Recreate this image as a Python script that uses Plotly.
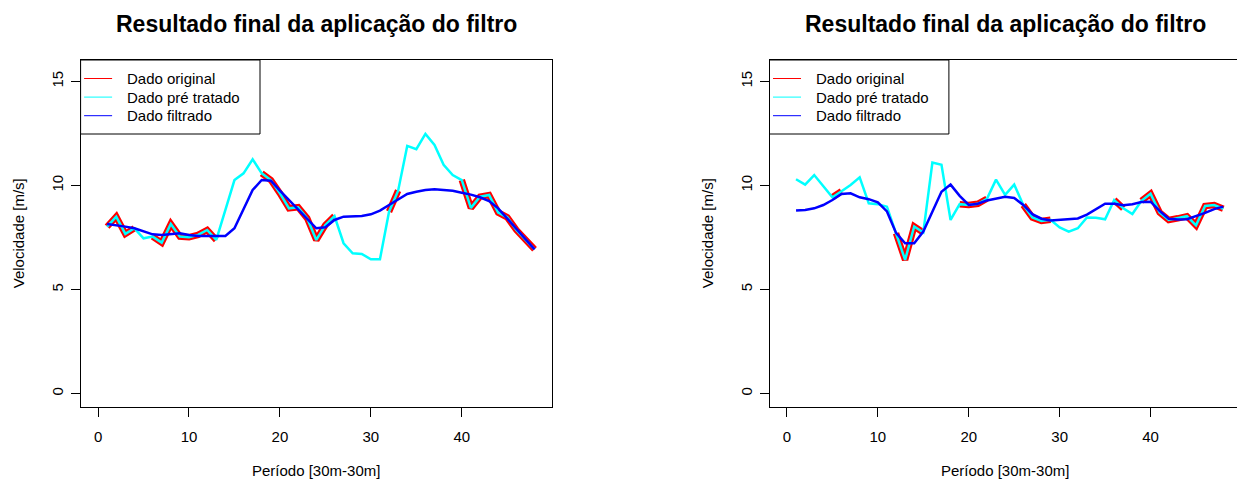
import plotly.graph_objects as go

periods = list(range(1, 49))

# ---- Left panel ----
left_original = [8.02, 8.5, 7.67, 7.94, None, 7.54, 7.25, 8.15, 7.54, 7.51,
                 7.62, 7.86, 7.38, None, None, None, None, 10.58, 10.26, 9.62,
                 8.9, 8.95, 8.42, 7.38, 8.1, 8.53, None, None, None, None,
                 None, 8.74, 9.75, None, None, None, None, None, None, 10.26,
                 8.92, 9.46, 9.54, 8.7, 8.47, 7.86, 7.38, 6.93]
left_pretreated = [8.02, 8.5, 7.67, 7.94, 7.46, 7.54, 7.25, 8.15, 7.54, 7.51,
                   7.62, 7.86, 7.38, 8.8, 10.26, 10.58, 11.26, 10.58, 10.26, 9.62,
                   8.9, 8.95, 8.42, 7.38, 8.1, 8.53, 7.22, 6.74, 6.71, 6.45,
                   6.45, 8.74, 9.75, 11.9, 11.74, 12.48, 11.95, 10.99, 10.5, 10.26,
                   8.92, 9.46, 9.54, 8.7, 8.47, 7.86, 7.38, 6.93]
left_filtered = [8.15, 8.1, 8.02, 7.94, 7.78, 7.65, 7.62, 7.67, 7.7, 7.62,
                 7.57, 7.57, 7.57, 7.57, 7.94, 8.82, 9.78, 10.26, 10.23, 9.75,
                 9.3, 8.86, 8.42, 7.94, 7.99, 8.34, 8.5, 8.5, 8.53, 8.61,
                 8.79, 9.06, 9.32, 9.59, 9.7, 9.78, 9.82, 9.78, 9.74, 9.65,
                 9.56, 9.43, 9.25, 8.9, 8.42, 7.94, 7.41, 6.93]

# ---- Right panel ----
right_original = [None, None, None, None, 9.43, 9.72, None, None, None, None,
                  None, 7.7, 6.42, 8.03, 7.74, None, None, None, 9.1, 9.06,
                  9.12, 9.36, None, None, None, 9.06, 8.46, 8.29, 8.35, None,
                  None, None, None, None, None, 9.3, 8.9, None, 9.26, 9.6,
                  8.7, 8.34, 8.42, 8.52, 8.08, 9.01, 9.06, 8.88]
right_pretreated = [10.3, 10.04, 10.5, 9.94, 9.43, 9.72, 10.02, 10.39, 9.14, 9.1,
                    8.98, 7.7, 6.42, 8.03, 7.74, 11.1, 10.99, 8.34, 9.1, 9.06,
                    9.12, 9.36, 10.28, 9.55, 10.04, 9.06, 8.46, 8.29, 8.35, 7.98,
                    7.78, 7.94, 8.46, 8.45, 8.37, 9.3, 8.9, 8.63, 9.26, 9.6,
                    8.7, 8.34, 8.42, 8.52, 8.08, 9.01, 9.06, 8.88]
right_filtered = [8.79, 8.82, 8.9, 9.06, 9.3, 9.59, 9.62, 9.43, 9.34, 9.19,
                  8.75, 7.72, 7.22, 7.22, 7.78, 8.7, 9.7, 10.04, 9.5, 9.06,
                  9.12, 9.28, 9.38, 9.45, 9.4, 9.06, 8.62, 8.4, 8.32, 8.34,
                  8.37, 8.41, 8.6, 8.88, 9.12, 9.12, 9.05, 9.1, 9.2, 9.22,
                  8.78, 8.4, 8.36, 8.38, 8.52, 8.68, 8.86, 8.98]

series_names = ["Dado original", "Dado pré tratado", "Dado filtrado"]
series_colors = ["#FF0000", "#00FFFF", "#0000FF"]
series_widths = [6.5, 2.5, 2.5]

x_ticks = [0, 10, 20, 30, 40]
y_ticks = [0, 5, 10, 15]
title_text = "Resultado final da aplicação do filtro"
x_title = "Período [30m-30m]"
y_title = "Velocidade [m/s]"

W, H = 1237, 479
FONT = "Liberation Sans, Arial, sans-serif"

fig = go.Figure()

panels = [
    ("x", "y", [left_original, left_pretreated, left_filtered]),
    ("x2", "y2", [right_original, right_pretreated, right_filtered]),
]
for xa, ya, data in panels:
    for name, vals, col, w in zip(series_names, data, series_colors, series_widths):
        fig.add_trace(go.Scatter(
            x=periods, y=vals, mode="lines", name=name,
            line=dict(color=col, width=w), connectgaps=False,
            xaxis=xa, yaxis=ya, showlegend=False, hoverinfo="skip"))

# pixel geometry
L_left, L_right = 80.6, 552.0
R_left = 769.5
top_px, bot_px = 60.0, 407.4
px_per_x = 9.09
xr_left = [-1.92, 49.92]
xr_right = [-1.92, -1.92 + (W - R_left) / px_per_x]
yr = [-0.67, 16.03]

def fx(p):
    return p / W

def fy(p):
    return 1 - p / H

axis_common = dict(
    showgrid=False, zeroline=False, showline=True, linecolor="black",
    linewidth=1, ticks="outside", ticklen=9, tickwidth=1, tickcolor="black",
    tickfont=dict(family=FONT, size=15, color="black"),
)

fig.update_layout(
    width=W, height=H, margin=dict(l=0, r=0, t=0, b=0),
    paper_bgcolor="white", plot_bgcolor="white", showlegend=False,
    xaxis=dict(domain=[fx(L_left), fx(L_right)], range=xr_left, tickvals=x_ticks,
               mirror=True, anchor="y", ticklabelstandoff=7, **axis_common),
    yaxis=dict(domain=[fy(bot_px), fy(top_px)], range=yr, tickvals=y_ticks,
               mirror=True, anchor="x", tickangle=-90, ticklabelstandoff=2, **axis_common),
    xaxis2=dict(domain=[fx(R_left), 1.0], range=xr_right, tickvals=x_ticks,
                mirror=True, anchor="y2", ticklabelstandoff=7, **axis_common),
    yaxis2=dict(domain=[fy(bot_px), fy(top_px)], range=yr, tickvals=y_ticks,
                mirror=False, anchor="x2", tickangle=-90, ticklabelstandoff=2, **axis_common),
)

annotations = []
shapes = []
for box_left, box_right in [(L_left, L_right), (R_left, R_left + (L_right - L_left))]:
    cx = (box_left + box_right) / 2
    annotations.append(dict(
        text="<b>%s</b>" % title_text, x=fx(cx), y=fy(24), xref="paper", yref="paper",
        xanchor="center", yanchor="middle", showarrow=False,
        font=dict(family=FONT, size=23, color="black")))
    annotations.append(dict(
        text=x_title, x=fx(cx), y=fy(470), xref="paper", yref="paper",
        xanchor="center", yanchor="middle", showarrow=False,
        font=dict(family=FONT, size=15, color="black")))
    annotations.append(dict(
        text=y_title, x=fx(box_left - 62), y=fy((top_px + bot_px) / 2), xref="paper", yref="paper",
        xanchor="center", yanchor="middle", showarrow=False, textangle=-90,
        font=dict(family=FONT, size=15, color="black")))
    # legend box
    lg_l, lg_r, lg_t, lg_b = box_left, box_left + 179.4, top_px, 134.0
    shapes.append(dict(type="rect", xref="paper", yref="paper",
                       x0=fx(lg_l), x1=fx(lg_r), y0=fy(lg_b), y1=fy(lg_t),
                       line=dict(color="black", width=1), fillcolor="white", layer="above"))
    for i, (name, col) in enumerate(zip(series_names, series_colors)):
        yy = 78.5 + i * 18.6
        shapes.append(dict(type="line", xref="paper", yref="paper",
                           x0=fx(box_left + 3.5), x1=fx(box_left + 31.5), y0=fy(yy), y1=fy(yy),
                           line=dict(color=col, width=1), layer="above"))
        annotations.append(dict(
            text=name, x=fx(box_left + 44), y=fy(yy), xref="paper", yref="paper",
            xanchor="left", yanchor="middle", showarrow=False,
            font=dict(family=FONT, size=15, color="black")))

fig.update_layout(annotations=annotations, shapes=shapes)
fig.write_html("out.html", config={"displayModeBar": False},
               post_script="document.body.style.margin='0px';document.body.style.padding='0px';")
